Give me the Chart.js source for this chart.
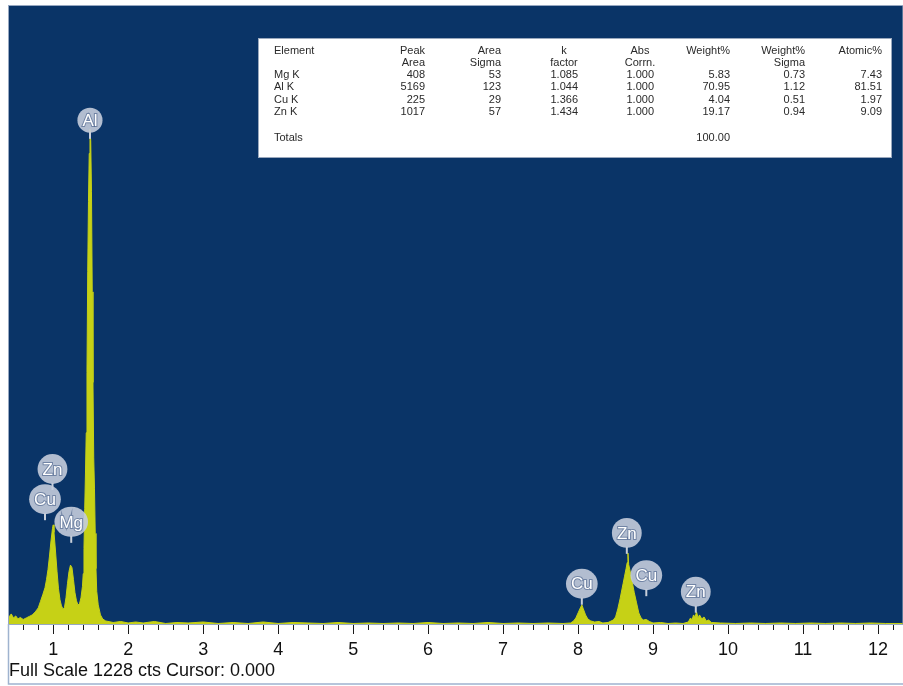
<!DOCTYPE html>
<html>
<head>
<meta charset="utf-8">
<title>EDS spectrum</title>
<script src="https://cdn.jsdelivr.net/npm/chart.js@4.4.1/dist/chart.umd.min.js"></script>
<style>
  html, body { margin: 0; padding: 0; background: #ffffff; }
  #wrap { width: 903px; height: 686px; position: relative; }
  canvas { display: block; }
</style>
</head>
<body>
<div id="wrap"><canvas id="spectrum" width="903" height="686"></canvas></div>
<script>
// ---- Spectrum (energy in keV, counts per channel) ----
const energyKeV = [
  0.41, 0.44, 0.47, 0.50, 0.53, 0.56, 0.60, 0.64, 0.68, 0.72, 0.76, 0.80, 0.83, 0.86, 0.89,
  0.91, 0.93, 0.95, 0.97, 0.99, 1.00, 1.01, 1.03, 1.05, 1.07, 1.09, 1.11, 1.13, 1.15, 1.17,
  1.19, 1.21, 1.23, 1.25, 1.27, 1.29, 1.31, 1.33, 1.35, 1.37, 1.39, 1.40, 1.41, 1.42, 1.43,
  1.44, 1.45, 1.46, 1.47, 1.48, 1.49, 1.50, 1.51, 1.52, 1.53, 1.54, 1.55, 1.56, 1.57, 1.58,
  1.60, 1.63, 1.66, 1.70, 1.80, 1.90, 2.00, 2.10, 2.20, 2.35, 2.50, 2.65, 2.80, 3.00, 3.20,
  3.40, 3.60, 3.80, 4.00, 4.20, 4.40, 4.60, 4.80, 5.00, 5.20, 5.40, 5.60, 5.80, 6.00, 6.20,
  6.40, 6.60, 6.80, 7.00, 7.20, 7.40, 7.60, 7.80, 7.90, 7.94, 7.97, 8.00, 8.03, 8.05, 8.07,
  8.10, 8.13, 8.17, 8.22, 8.28, 8.33, 8.40, 8.47, 8.50, 8.53, 8.56, 8.60, 8.62, 8.64, 8.655,
  8.665, 8.675, 8.69, 8.72, 8.75, 8.78, 8.81, 8.84, 8.87, 8.91, 8.95, 9.00, 9.10, 9.20, 9.30,
  9.40, 9.47, 9.50, 9.52, 9.54, 9.56, 9.58, 9.60, 9.62, 9.65, 9.68, 9.71, 9.74, 9.78, 9.90,
  10.1, 10.3, 10.5, 10.7, 10.9, 11.1, 11.3, 11.5, 11.7, 11.9, 12.1, 12.33
];
const counts = [
  14, 20, 12, 16, 10, 13, 9, 12, 15, 18, 24, 32, 45, 58, 72,
  88, 108, 135, 165, 190, 197, 182, 145, 105, 70, 48, 36, 30, 33, 52,
  80, 104, 117, 112, 88, 62, 46, 38, 40, 52, 75, 100, 150, 230, 300,
  380, 500, 700, 840, 935, 983, 960, 860, 660, 480, 330, 270, 180, 110, 65,
  38, 18, 10, 6, 3, 5, 2, 4, 2, 5, 1, 3, 2, 4, 1,
  3, 1, 4, 1, 3, 2, 1, 3, 1, 2, 1, 2, 1, 3, 1,
  2, 1, 3, 1, 2, 1, 2, 1, 2, 6, 12, 22, 32, 38, 30,
  18, 10, 6, 4, 5, 2, 3, 8, 14, 30, 50, 80, 95, 110, 122,
  141, 118, 108, 85, 62, 42, 22, 12, 8, 9, 5, 2, 3, 1, 2,
  1, 4, 12, 8, 18, 14, 24, 12, 18, 10, 14, 6, 8, 3, 2,
  1, 2, 1, 2, 1, 2, 1, 2, 1, 2, 1, 1
];
const fullScaleCounts = 1228;
const cursorKeV = '0.000';
const axisTickValues = [1, 2, 3, 4, 5, 6, 7, 8, 9, 10, 11, 12];

// ---- Peak identification markers ----
const peakElements    = ['Al', 'Zn', 'Cu', 'Mg', 'Zn', 'Cu', 'Cu', 'Zn'];
const peakEnergies    = [1.49, 0.99, 0.89, 1.24, 8.65, 8.91, 8.05, 9.57];
const peakMarkerLevel = [1001, 308, 248, 203, 181, 97, 80, 64];

// ---- Quantification table ----
const elementLines = ['Mg K', 'Al K', 'Cu K', 'Zn K'];
const peakArea     = ['408', '5169', '225', '1017'];
const areaSigma    = ['53', '123', '29', '57'];
const kFactor      = ['1.085', '1.044', '1.366', '1.434'];
const absCorrn     = ['1.000', '1.000', '1.000', '1.000'];
const weightPct    = ['5.83', '70.95', '4.04', '19.17'];
const weightSigma  = ['0.73', '1.12', '0.51', '0.94'];
const atomicPct    = ['7.43', '81.51', '1.97', '9.09'];
const totalWeight  = '100.00';

const NAVY = '#0a3467';
const SPECTRUM = '#c6d116';
const FONT = '"Liberation Sans", Arial, Helvetica, sans-serif';
const MINOR_STEP = 0.2;

function drawTable(ctx) {
  const L = 258, T = 38, R = 892, B = 158;
  ctx.fillStyle = '#ffffff';
  ctx.fillRect(L, T, R - L, B - T);
  ctx.strokeStyle = '#9aa8bd';
  ctx.lineWidth = 1;
  ctx.strokeRect(L + 0.5, T + 0.5, R - L - 1, B - T - 1);

  ctx.font = '11px ' + FONT;
  ctx.fillStyle = '#2a2a2a';
  ctx.textBaseline = 'middle';
  const yH1 = 50.5, yH2 = 62.5, yRow = 75, dy = 12.4, yTot = 137.5;

  ctx.textAlign = 'left';
  ctx.fillText('Element', 274, yH1);
  elementLines.forEach((t, i) => ctx.fillText(t, 274, yRow + i * dy));
  ctx.fillText('Totals', 274, yTot);

  const cols = [
    { h1: 'Peak', h2: 'Area', hx: 425, ha: 'right', vx: 425, vals: peakArea },
    { h1: 'Area', h2: 'Sigma', hx: 501, ha: 'right', vx: 501, vals: areaSigma },
    { h1: 'k', h2: 'factor', hx: 564, ha: 'center', vx: 578, vals: kFactor },
    { h1: 'Abs', h2: 'Corrn.', hx: 640, ha: 'center', vx: 654, vals: absCorrn },
    { h1: 'Weight%', h2: '', hx: 730, ha: 'right', vx: 730, vals: weightPct, total: totalWeight },
    { h1: 'Weight%', h2: 'Sigma', hx: 805, ha: 'right', vx: 805, vals: weightSigma },
    { h1: 'Atomic%', h2: '', hx: 882, ha: 'right', vx: 882, vals: atomicPct }
  ];
  cols.forEach(c => {
    ctx.textAlign = c.ha;
    ctx.fillText(c.h1, c.hx, yH1);
    if (c.h2) ctx.fillText(c.h2, c.hx, yH2);
    ctx.textAlign = 'right';
    c.vals.forEach((v, i) => ctx.fillText(v, c.vx, yRow + i * dy));
    if (c.total) ctx.fillText(c.total, c.vx, yTot);
  });
}

const decorations = {
  id: 'decorations',
  beforeDraw(chart) {
    const { ctx, chartArea: a } = chart;
    ctx.save();
    ctx.fillStyle = '#ffffff';
    ctx.fillRect(0, 0, chart.width, chart.height);
    ctx.fillStyle = NAVY;
    ctx.fillRect(a.left, a.top, a.right - a.left, a.bottom - a.top);
    ctx.strokeStyle = 'rgba(140,158,186,0.9)';
    ctx.lineWidth = 1;
    ctx.strokeRect(a.left - 0.5, a.top - 0.5, a.right - a.left + 1, a.bottom - a.top + 1);
    ctx.restore();
  },
  afterDraw(chart) {
    const { ctx, chartArea: a } = chart;
    const xs = chart.scales.x, ys = chart.scales.y;
    ctx.save();

    // energy axis tick marks
    ctx.strokeStyle = '#1a1a1a';
    ctx.lineWidth = 1;
    ctx.beginPath();
    for (let k = Math.ceil(xs.min / MINOR_STEP); k * MINOR_STEP <= xs.max + 1e-9; k++) {
      const v = k * MINOR_STEP;
      const major = Math.abs(v - Math.round(v)) < 1e-6;
      const px = Math.round(xs.getPixelForValue(v)) + 0.5;
      ctx.moveTo(px, a.bottom + 1);
      ctx.lineTo(px, a.bottom + (major ? 10 : 6));
    }
    ctx.stroke();

    // frame of the axis strip
    ctx.strokeStyle = '#9fb3cf';
    ctx.lineWidth = 1.5;
    ctx.beginPath();
    ctx.moveTo(a.left - 0.5, a.bottom);
    ctx.lineTo(a.left - 0.5, 684);
    ctx.lineTo(chart.width, 684);
    ctx.stroke();

    // peak markers
    ctx.font = '17px ' + FONT;
    ctx.textAlign = 'center';
    ctx.textBaseline = 'middle';
    peakElements.forEach((el, i) => {
      const px = xs.getPixelForValue(peakEnergies[i]);
      const py = ys.getPixelForValue(peakMarkerLevel[i]);
      const w = ctx.measureText(el).width;
      const rx = w / 2 + 5;
      const ry = Math.min(rx, 15);
      ctx.strokeStyle = '#c8cfda';
      ctx.lineWidth = 2;
      ctx.beginPath();
      ctx.moveTo(px, py + ry - 1);
      ctx.lineTo(px, py + ry + 6);
      ctx.stroke();
      ctx.fillStyle = 'rgba(196,204,219,0.9)';
      ctx.beginPath();
      ctx.ellipse(px, py, rx, ry, 0, 0, Math.PI * 2);
      ctx.fill();
      ctx.strokeStyle = 'rgba(60,85,130,0.55)';
      ctx.lineWidth = 2;
      ctx.strokeText(el, px, py + 1);
      ctx.fillStyle = '#ffffff';
      ctx.fillText(el, px, py + 1);
    });

    drawTable(ctx);

    // status line
    ctx.font = '18px ' + FONT;
    ctx.fillStyle = '#111111';
    ctx.textAlign = 'left';
    ctx.textBaseline = 'alphabetic';
    ctx.fillText('Full Scale ' + fullScaleCounts + ' cts Cursor: ' + cursorKeV, 9, 676);
    ctx.restore();
  }
};

new Chart(document.getElementById('spectrum'), {
  type: 'line',
  data: {
    datasets: [{
      data: energyKeV.map((e, i) => ({ x: e, y: counts[i] })),
      borderColor: SPECTRUM,
      backgroundColor: SPECTRUM,
      borderWidth: 1,
      fill: 'origin',
      pointRadius: 0,
      tension: 0
    }]
  },
  options: {
    responsive: false,
    animation: false,
    events: [],
    layout: { padding: { left: 9, top: 6, right: 0, bottom: 0 } },
    plugins: { legend: { display: false }, tooltip: { enabled: false } },
    scales: {
      x: {
        type: 'linear',
        min: 0.41,
        max: 12.33,
        grid: { display: false, drawTicks: false, tickLength: 0 },
        border: { display: false },
        afterBuildTicks: axis => { axis.ticks = axisTickValues.map(v => ({ value: v })); },
        afterFit: axis => { axis.height = 62; },
        ticks: {
          autoSkip: false,
          maxRotation: 0,
          padding: 15,
          color: '#111111',
          font: { family: FONT, size: 18 },
          callback: v => String(v)
        }
      },
      y: { display: false, min: 0, max: fullScaleCounts }
    }
  },
  plugins: [decorations]
});
</script>
</body>
</html>
